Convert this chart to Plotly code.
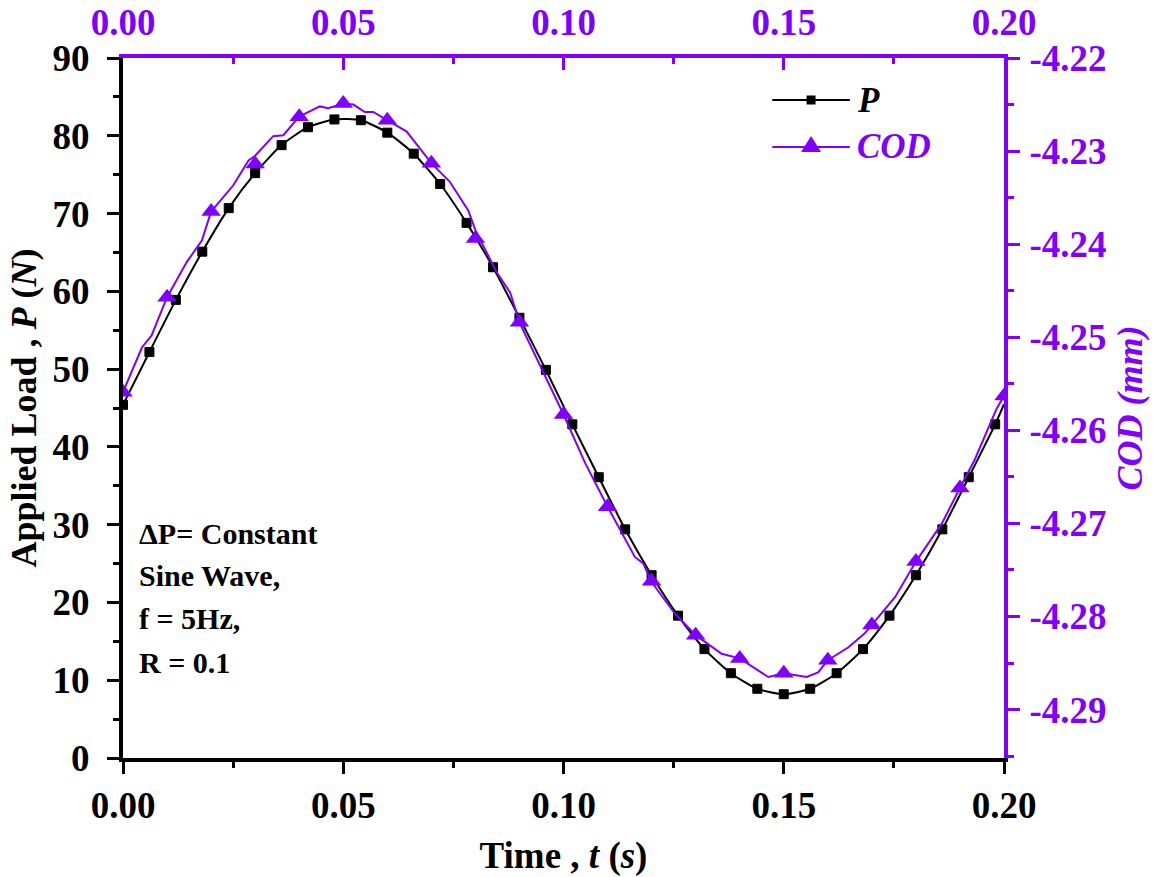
import plotly.graph_objects as go

# ---------------- data ----------------
p_time = [0.000, 0.006, 0.012, 0.018, 0.024, 0.030, 0.036, 0.042, 0.048, 0.054,
          0.060, 0.066, 0.072, 0.078, 0.084, 0.090, 0.096, 0.102, 0.108, 0.114,
          0.120, 0.126, 0.132, 0.138, 0.144, 0.150, 0.156, 0.162, 0.168, 0.174,
          0.180, 0.186, 0.192, 0.198, 0.200]
p_load = [45.4, 52.2, 58.9, 65.1, 70.7, 75.2, 78.8, 81.1, 82.1, 82.0,
          80.4, 77.7, 73.8, 68.8, 63.1, 56.6, 49.9, 42.9, 36.1, 29.4,
          23.5, 18.3, 14.0, 10.9, 8.9, 8.2, 8.9, 10.9, 14.0, 18.3,
          23.5, 29.4, 36.1, 42.9, 45.5]
p_has_marker = [True] * 34 + [False]

cod_line_time = [0.0000, 0.0043, 0.0065, 0.0100, 0.0145, 0.0179, 0.0200, 0.0250,
                 0.0285, 0.0300, 0.0341, 0.0364, 0.0400, 0.0447, 0.0466, 0.0500,
                 0.0523, 0.0549, 0.0568, 0.0600, 0.0644, 0.0700, 0.0742, 0.0784,
                 0.0800, 0.0848, 0.0879, 0.0900, 0.0947, 0.1000, 0.1049, 0.1100,
                 0.1162, 0.1181, 0.1200, 0.1253, 0.1300, 0.1359, 0.1400, 0.1465,
                 0.1500, 0.1552, 0.1578, 0.1600, 0.1647, 0.1684, 0.1700, 0.1753,
                 0.1800, 0.1828, 0.1859, 0.1900, 0.1934, 0.1983, 0.2000]
cod_line_val = [-4.2559, -4.2511, -4.2498, -4.2457, -4.2419, -4.2396, -4.2365, -4.2337,
                -4.2310, -4.2305, -4.2284, -4.2283, -4.2263, -4.2252, -4.2254, -4.2249,
                -4.2250, -4.2258, -4.2258, -4.2267, -4.2279, -4.2313, -4.2333, -4.2364,
                -4.2385, -4.2430, -4.2452, -4.2484, -4.2531, -4.2583, -4.2635, -4.2682,
                -4.2736, -4.2743, -4.2763, -4.2797, -4.2820, -4.2840, -4.2845, -4.2865,
                -4.2861, -4.2865, -4.2860, -4.2847, -4.2833, -4.2818, -4.2809, -4.2779,
                -4.2741, -4.2721, -4.2700, -4.2662, -4.2631, -4.2577, -4.2563]

cod_mark_time = [0.00, 0.01, 0.02, 0.03, 0.04, 0.05, 0.06, 0.07, 0.08, 0.09, 0.10,
                 0.11, 0.12, 0.13, 0.14, 0.15, 0.16, 0.17, 0.18, 0.19, 0.20]
cod_mark_val = [-4.2559, -4.2457, -4.2365, -4.2314, -4.2263, -4.2249, -4.2267, -4.2313,
                -4.2394, -4.2484, -4.2583, -4.2682, -4.2762, -4.2820, -4.2845, -4.2861,
                -4.2847, -4.2809, -4.2741, -4.2662, -4.2563]

x_ticks = [0.00, 0.05, 0.10, 0.15, 0.20]
x_tick_labels = ["0.00", "0.05", "0.10", "0.15", "0.20"]
y_ticks = [0, 10, 20, 30, 40, 50, 60, 70, 80, 90]
y2_ticks = [-4.29, -4.28, -4.27, -4.26, -4.25, -4.24, -4.23, -4.22]
y2_tick_labels = ["-4.29", "-4.28", "-4.27", "-4.26", "-4.25", "-4.24", "-4.23", "-4.22"]
note_lines = ["ΔP= Constant", "Sine Wave,", "f = 5Hz,", "R = 0.1"]

# ---------------- style ----------------
PURPLE = "#7F00FF"
FONT = "Liberation Serif, Times New Roman, serif"
TICK_SIZE = 37
TITLE_SIZE = 36

fig = go.Figure()

fig.add_trace(go.Scatter(
    x=p_time, y=p_load, mode="lines+markers", name="P",
    line=dict(color="black", width=2, shape="spline", smoothing=0.6),
    marker=dict(symbol="square", color="black", opacity=1,
                line=dict(width=1, color="black"),
                size=[9 if m else 0 for m in p_has_marker]),
    xaxis="x", yaxis="y", showlegend=False,
))
fig.add_trace(go.Scatter(
    x=cod_line_time, y=cod_line_val, mode="lines", name="COD",
    line=dict(color=PURPLE, width=2),
    xaxis="x2", yaxis="y2", showlegend=False,
))
fig.add_trace(go.Scatter(
    x=cod_mark_time, y=cod_mark_val, mode="markers", name="COD",
    marker=dict(symbol="triangle-up", color=PURPLE, size=17, line=dict(width=0)),
    xaxis="x2", yaxis="y2", showlegend=False,
))

common_axis = dict(showgrid=False, zeroline=False, showline=True, linewidth=4,
                   tickwidth=3, ticklen=12, automargin=False)

fig.update_layout(
    width=1161, height=877,
    margin=dict(l=123, r=157, t=58, b=119),
    paper_bgcolor="white", plot_bgcolor="white",
    font=dict(family=FONT, color="black"),
    xaxis=dict(
        range=[0, 0.2], tickvals=x_ticks, ticktext=x_tick_labels, ticks="outside",
        linecolor="black", tickcolor="black", ticklabelstandoff=0,
        tickfont=dict(family=FONT, size=TICK_SIZE, color="black", weight="bold"),
        minor=dict(dtick=0.025, ticks="outside", ticklen=6, tickwidth=3, tickcolor="black"),
        title=dict(text="Time , <i>t</i> (<i>s</i>)", standoff=22,
                   font=dict(family=FONT, size=TITLE_SIZE + 1, color="black", weight="bold")),
        **common_axis,
    ),
    xaxis2=dict(
        range=[0, 0.2], tickvals=x_ticks, ticktext=x_tick_labels, ticks="inside",
        overlaying="x", side="top", anchor="y", ticklabelstandoff=4,
        linecolor=PURPLE, tickcolor=PURPLE,
        tickfont=dict(family=FONT, size=TICK_SIZE, color=PURPLE, weight="bold"),
        minor=dict(dtick=0.025, ticks="inside", ticklen=6, tickwidth=3, tickcolor=PURPLE),
        **common_axis,
    ),
    yaxis=dict(
        range=[0, 90], tickvals=y_ticks, ticks="outside",
        linecolor="black", tickcolor="black", ticklabelstandoff=10,
        tickfont=dict(family=FONT, size=TICK_SIZE, color="black", weight="bold"),
        minor=dict(dtick=5, ticks="outside", ticklen=6, tickwidth=3, tickcolor="black"),
        title=dict(text="Applied Load , <i>P</i> (<i>N</i>)", standoff=6,
                   font=dict(family=FONT, size=TITLE_SIZE, color="black", weight="bold")),
        **common_axis,
    ),
    yaxis2=dict(
        range=[-4.2952, -4.22], tickvals=y2_ticks, ticktext=y2_tick_labels, ticks="outside",
        overlaying="y", side="right", anchor="x", ticklabelstandoff=2,
        linecolor=PURPLE, tickcolor=PURPLE,
        tickfont=dict(family=FONT, size=TICK_SIZE, color=PURPLE, weight="bold"),
        minor=dict(dtick=0.005, ticks="outside", ticklen=6, tickwidth=3, tickcolor=PURPLE),
        title=dict(text="<i>COD (mm)</i>", standoff=12,
                   font=dict(family=FONT, size=TITLE_SIZE, color=PURPLE, weight="bold")),
        **common_axis,
    ),
)

# ---------------- manual legend (paper coordinates) ----------------
legend_items = [("<i>P</i>", "black", "square", 0.94), ("<i>COD</i>", PURPLE, "triangle", 0.873)]
for label, color, sym, ly in legend_items:
    fig.add_shape(type="line", xref="paper", yref="paper", x0=0.737, x1=0.825,
                  y0=ly, y1=ly, line=dict(color=color, width=2))
    if sym == "square":
        fig.add_shape(type="rect", xref="paper", yref="paper", xsizemode="pixel",
                      ysizemode="pixel", xanchor=0.781, yanchor=ly,
                      x0=-4.5, x1=4.5, y0=-4.5, y1=4.5,
                      fillcolor=color, line=dict(width=0))
    else:
        fig.add_shape(type="path", xref="paper", yref="paper", xsizemode="pixel",
                      ysizemode="pixel", xanchor=0.781, yanchor=ly,
                      path="M-10,-5 L10,-5 L0,11 Z",
                      fillcolor=color, line=dict(width=0))
    fig.add_annotation(text=label, xref="paper", yref="paper", x=0.831, y=ly,
                       xanchor="left", yanchor="middle", showarrow=False,
                       font=dict(family=FONT, size=35, color=color, weight="bold"))

# ---------------- note text ----------------
note_y = [0.3214, 0.2614, 0.2, 0.1371]
for txt, yy in zip(note_lines, note_y):
    fig.add_annotation(text=txt, xref="paper", yref="paper", x=0.016, y=yy,
                       xanchor="left", yanchor="middle", showarrow=False,
                       font=dict(family=FONT, size=30, color="black", weight="bold"))

fig.write_html("out.html")
